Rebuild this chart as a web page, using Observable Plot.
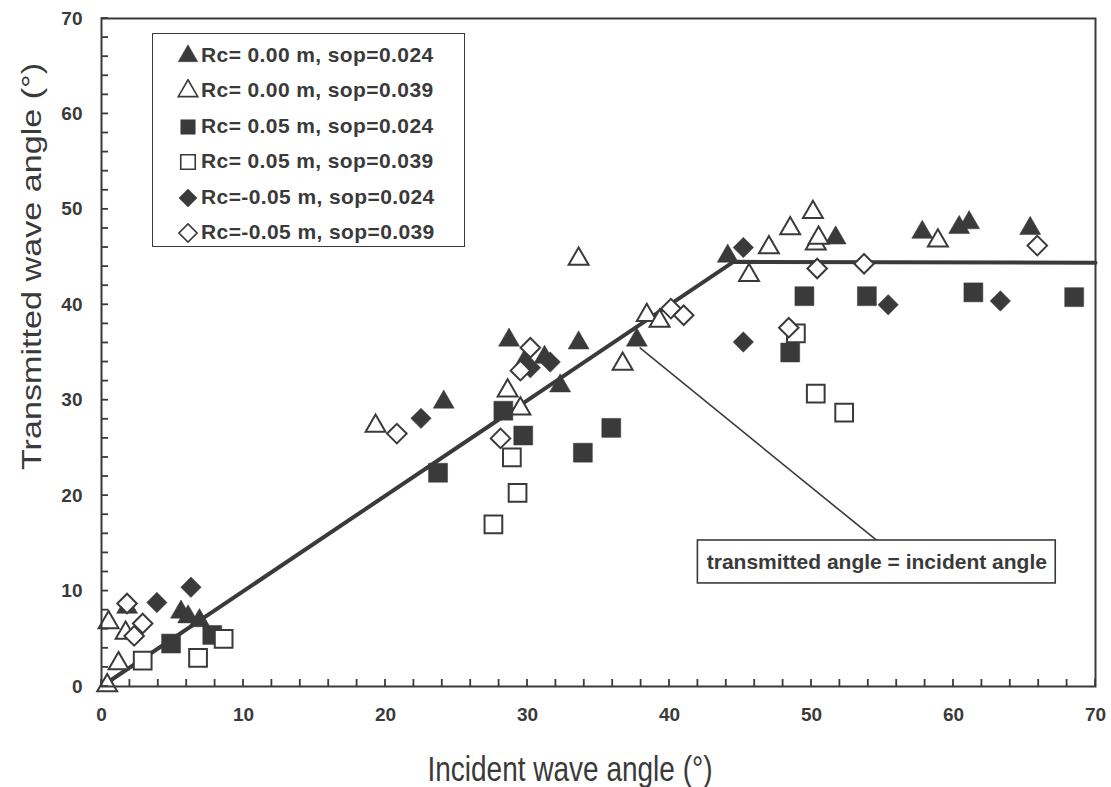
<!DOCTYPE html>
<html>
<head>
<meta charset="utf-8">
<script src="https://cdn.jsdelivr.net/npm/d3@7"></script>
<script src="https://cdn.jsdelivr.net/npm/@observablehq/plot@0.6"></script>
<style>
  body { margin: 0; background: #fff; }
  #wrap { position: relative; width: 1111px; height: 787px; }
  #legend {
    position: absolute; left: 152px; top: 33px; width: 313px; height: 214px;
    box-sizing: border-box; border: 1.5px solid #3a3a3a; background: #fff;
    font-family: "Liberation Sans", Arial, sans-serif; font-weight: bold;
    font-size: 21px; color: #3a3a3a; padding-top: 3px;
  }
  #legend .row { height: 35.5px; display: flex; align-items: center; white-space: pre; letter-spacing: 0.4px; }
  #legend svg { margin-left: 24px; margin-right: 2px; flex: none; }
</style>
</head>
<body>
<div id="wrap"></div>
<script>
const INK = "#3a3a3a";

// Series names (legend labels)
const seriesLabels = [
  "Rc= 0.00 m, sop=0.024",
  "Rc= 0.00 m, sop=0.039",
  "Rc= 0.05 m, sop=0.024",
  "Rc= 0.05 m, sop=0.039",
  "Rc=-0.05 m, sop=0.024",
  "Rc=-0.05 m, sop=0.039"
];

// [incident angle, transmitted angle]
const rc000_sop024 = [[1.8,8.3],[5.6,7.8],[6.1,7.3],[6.9,6.9],[24.1,29.8],[28.7,36.3],[29.8,34.1],[31.2,34.5],
  [32.3,31.5],[33.6,36.0],[37.7,36.3],[44.1,45.1],[51.7,47.0],[57.8,47.6],[60.4,48.1],[61.1,48.6],[65.4,48.0]];
const rc000_sop039 = [[0.4,0.1],[0.5,6.7],[1.7,5.6],[1.2,2.4],[19.3,27.3],[28.6,31.0],[29.5,29.1],[33.6,44.8],
  [36.7,33.8],[38.4,38.9],[39.3,38.3],[45.6,43.1],[47.0,46.0],[48.5,48.0],[50.1,49.7],[50.3,46.4],[50.5,47.0],[58.9,46.7]];
const rc005_sop024 = [[4.9,4.5],[7.8,5.4],[23.7,22.4],[28.3,28.9],[29.7,26.3],[33.9,24.5],[35.9,27.1],
  [48.5,35.0],[49.5,40.9],[53.9,40.9],[61.4,41.3],[68.5,40.8]];
const rc005_sop039 = [[2.9,2.7],[6.8,3.0],[8.6,5.0],[27.6,17.0],[28.9,24.0],[29.3,20.3],[48.9,37.0],[50.3,30.7],[52.3,28.7]];
const rcm005_sop024 = [[3.9,8.8],[6.3,10.4],[22.5,28.1],[30.2,33.4],[31.6,34.0],[45.2,46.0],[45.2,36.1],[55.4,40.0],[63.3,40.4]];
const rcm005_sop039 = [[1.8,8.7],[2.3,5.3],[2.9,6.6],[20.8,26.5],[28.1,26.0],[29.5,33.1],[30.2,35.5],[40.1,39.6],
  [41.0,38.9],[48.4,37.6],[50.4,43.8],[53.7,44.3],[65.9,46.2]];

// Trend line: transmitted = incident up to ~44.5°, then constant
const trendX = [0, 44.5, 70];
const trendY = [0, 44.5, 44.4];

// Annotation
const annotationText = "transmitted angle = incident angle";
const annotationLeader = {x1: 37.9, y1: 35.5, x2: 54.6, y2: 15.3};
const annotationBox = {x1: 42.0, x2: 67.2, y1: 10.8, y2: 15.3};

// Axis ticks
const majorTicks = d3.range(0, 71, 10);
const minorTicks = d3.range(0, 71, 2);

const series = [
  {label: seriesLabels[0], data: rc000_sop024, symbol: "triangle", filled: true,  r: 7.8},
  {label: seriesLabels[1], data: rc000_sop039, symbol: "triangle", filled: false, r: 7.4},
  {label: seriesLabels[2], data: rc005_sop024, symbol: "square",   filled: true,  r: 10.7},
  {label: seriesLabels[3], data: rc005_sop039, symbol: "square",   filled: false, r: 10},
  {label: seriesLabels[4], data: rcm005_sop024, symbol: "diamond2", filled: true, r: 9.2},
  {label: seriesLabels[5], data: rcm005_sop039, symbol: "diamond2", filled: false, r: 8.8}
];

const trend = trendX.map((x, i) => ({x, y: trendY[i]}));

const W = 1111, H = 787, ML = 101, MR = 16, MT = 18, MB = 101;
const TICK = 7;

const plot = Plot.plot({
  width: W, height: H,
  marginLeft: ML, marginRight: MR, marginTop: MT, marginBottom: MB,
  style: {fontFamily: "'Liberation Sans', Arial, sans-serif", color: INK, background: "#fff", overflow: "visible"},
  x: {domain: [0, 70]},
  y: {domain: [0, 70]},
  marks: [
    Plot.axisX({ticks: majorTicks, tickSize: 0, tickPadding: 21, fontSize: 19, fontWeight: "bold", label: null, fill: INK}),
    Plot.axisY({ticks: majorTicks, tickSize: 0, tickPadding: 19, fontSize: 19, fontWeight: "bold", label: null, fill: INK}),
    Plot.line(trend, {x: "x", y: "y", stroke: INK, strokeWidth: 4}),
    Plot.link([annotationLeader], {x1: "x1", y1: "y1", x2: "x2", y2: "y2", stroke: INK, strokeWidth: 1.6}),
    Plot.rect([annotationBox], {x1: "x1", x2: "x2", y1: "y1", y2: "y2", fill: "white", stroke: INK, strokeWidth: 1.6}),
    Plot.text([annotationText], {
      x: (annotationBox.x1 + annotationBox.x2) / 2,
      y: (annotationBox.y1 + annotationBox.y2) / 2,
      text: d => d, fontSize: 21, fontWeight: "bold", fill: INK
    }),
    ...series.map(s => Plot.dot(s.data, {
      x: d => d[0], y: d => d[1], symbol: s.symbol, r: s.r,
      fill: s.filled ? INK : "white", stroke: INK, strokeWidth: s.filled ? 0.5 : 2
    })),
    Plot.frame({stroke: INK, strokeWidth: 2})
  ]
});

const wrap = document.getElementById("wrap");
wrap.appendChild(plot);

// Inward minor ticks, positioned through the plot's own scales
const svg = d3.select(plot);
const sx = plot.scale("x"), sy = plot.scale("y");
const tickG = svg.append("g");
minorTicks.forEach(t => {
  const px = sx.apply(t), py = sy.apply(t);
  tickG.append("line").attr("x1", px).attr("x2", px).attr("y1", H - MB).attr("y2", H - MB - TICK)
    .style("stroke", INK).style("stroke-width", "1.8px");
  tickG.append("line").attr("x1", ML).attr("x2", ML + TICK).attr("y1", py).attr("y2", py)
    .style("stroke", INK).style("stroke-width", "1.8px");
});

// Axis titles
svg.append("text")
  .attr("transform", "translate(570,781) scale(1,1.22)")
  .attr("text-anchor", "middle").attr("font-size", 28).attr("fill", INK)
  .style("font-family", "'Liberation Sans', Arial, sans-serif")
  .text("Incident wave angle (°)");
svg.append("text")
  .attr("transform", "translate(41,470) rotate(-90) scale(1.22,1)")
  .attr("text-anchor", "start").attr("font-size", 28).attr("fill", INK)
  .style("font-family", "'Liberation Sans', Arial, sans-serif")
  .text("Transmitted wave angle (°)");

// Legend
const symbolTypes = {triangle: d3.symbolTriangle, square: d3.symbolSquare, diamond2: d3.symbolDiamond2};
const symbolSizes = {triangle: 165, square: 210, diamond2: 210};
const legend = d3.select(wrap).append("div").attr("id", "legend");
series.forEach(s => {
  const row = legend.append("div").attr("class", "row");
  const sv = row.append("svg").attr("width", 22).attr("height", 22);
  sv.append("path")
    .attr("transform", "translate(11,12)")
    .attr("d", d3.symbol(symbolTypes[s.symbol], symbolSizes[s.symbol])())
    .attr("fill", s.filled ? INK : "white")
    .attr("stroke", INK)
    .attr("stroke-width", s.filled ? 0.5 : 1.6);
  row.append("span").text(s.label);
});
</script>
</body>
</html>
